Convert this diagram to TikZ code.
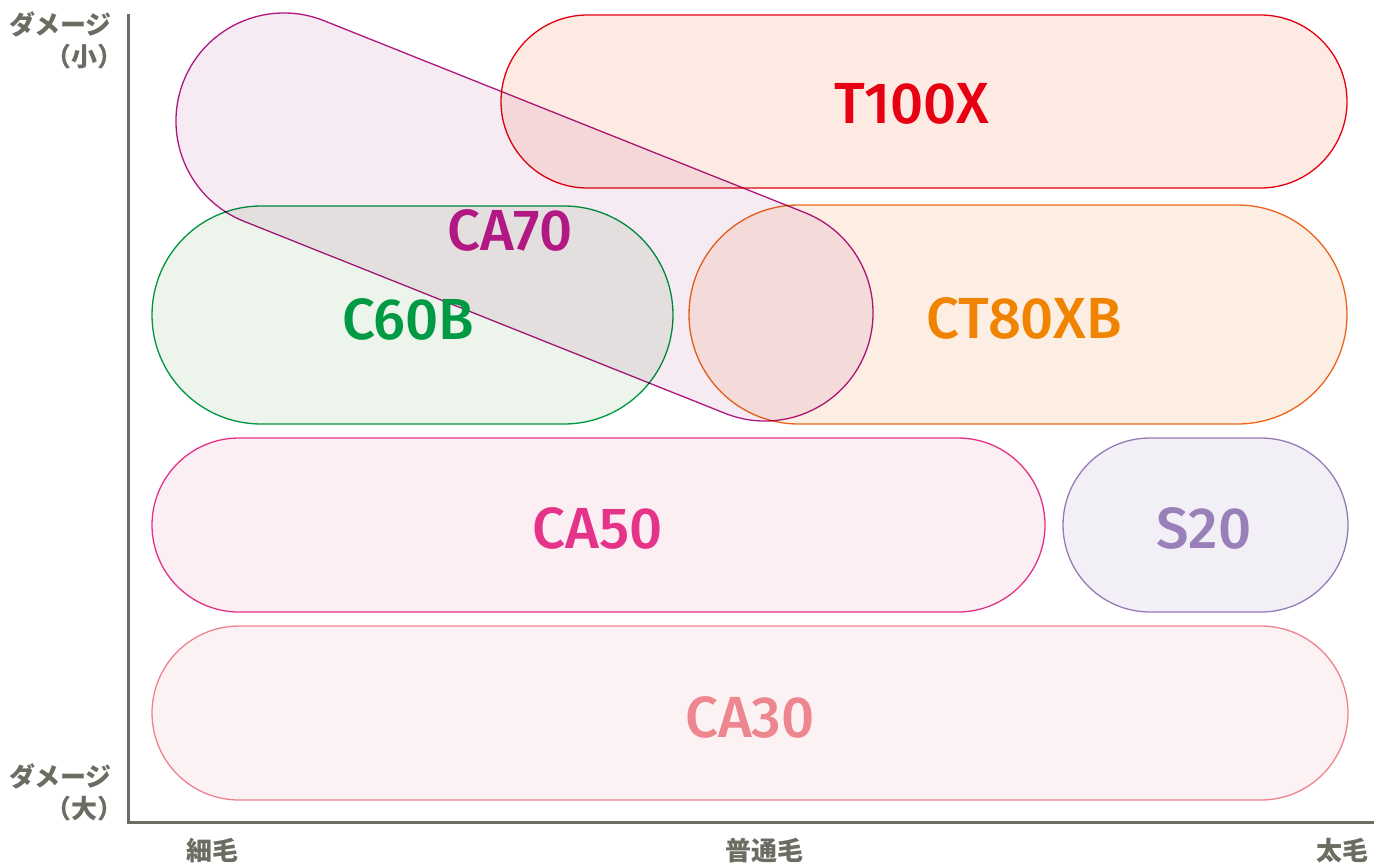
\documentclass[tikz,border=0pt]{standalone}
\usepackage{fontspec}
\setmainfont{Fira Sans}
\newfontfamily\din{Fira Sans Medium}
\newfontfamily\cjk{Noto Sans CJK JP}
\definecolor{axisgray}{HTML}{6C6C62}
\definecolor{cRed}{HTML}{E60012}
\definecolor{fRed}{HTML}{FDEBE3}
\definecolor{cMag}{HTML}{B21884}
\definecolor{fMag}{HTML}{F6EAF3}
\definecolor{cGreen}{HTML}{009944}
\definecolor{fGreen}{HTML}{EDF4EB}
\definecolor{cOrangeLine}{HTML}{EC6A1C}
\definecolor{cOrange}{HTML}{F08300}
\definecolor{fOrange}{HTML}{FDEEE4}
\definecolor{cPink}{HTML}{E5338A}
\definecolor{fPink}{HTML}{FCEFF4}
\definecolor{cPurple}{HTML}{9A80B9}
\definecolor{fPurple}{HTML}{F3EFF7}
\definecolor{cRose}{HTML}{EE8690}
\definecolor{fRose}{HTML}{FDF2F3}
\tikzset{
  pill/.style={draw=#1, line width=1.3pt, inner sep=0pt, outer sep=0pt},
  plabel/.style={text=#1, font=\din\fontsize{58}{58}\selectfont, inner sep=0pt},
  axislabel/.style={text=axisgray, font=\cjk\fontsize{26}{32}\selectfont\bfseries, inner sep=0pt},
  axisline/.style={draw=axisgray, line width=3pt}
}
\begin{document}
\begin{tikzpicture}[x=1pt,y=-1pt]
\useasboundingbox (0,0) rectangle (1386,863);
\begin{scope}[blend mode=multiply]
\node[pill=cRed, fill=fRed, minimum width=846pt, minimum height=173pt, rounded corners=86.5pt] (t100x) at (924,101.5) {};
\node[pill=cMag, fill=fMag, minimum width=734pt, minimum height=216pt, rounded corners=108pt, rotate=-21.76] (ca70) at (524.5,217) {};
\node[pill=cGreen, fill=fGreen, minimum width=521pt, minimum height=218pt, rounded corners=109pt] (c60b) at (412.5,315) {};
\node[pill=cOrangeLine, fill=fOrange, minimum width=658pt, minimum height=219pt, rounded corners=109.5pt] (ct80xb) at (1018,314.5) {};
\node[pill=cPink, fill=fPink, minimum width=893pt, minimum height=174pt, rounded corners=87pt] (ca50) at (598.5,525) {};
\node[pill=cPurple, fill=fPurple, minimum width=285pt, minimum height=174pt, rounded corners=87pt] (s20) at (1205.5,525) {};
\node[pill=cRose, fill=fRose, minimum width=1196pt, minimum height=174pt, rounded corners=87pt] (ca30) at (750,713) {};
\end{scope}
\node[plabel=cRed] (lt100x) at (912,104) {T100X};
\node[plabel=cMag] (lca70) at (510,230) {CA70};
\node[plabel=cGreen] (lc60b) at (408,319) {C60B};
\node[plabel=cOrange] (lct80xb) at (1024,318) {CT80XB};
\node[plabel=cPink] (lca50) at (598,528) {CA50};
\node[plabel=cPurple] (ls20) at (1204,528) {S20};
\node[plabel=cRose] (lca30) at (750,717) {CA30};
\coordinate (top) at (128,14);
\coordinate (origin) at (128,822);
\coordinate (right) at (1374,822);
\draw[axisline] (top) -- (origin) -- (right);
\node[axislabel, align=right, anchor=north east] (ysmall) at (112,11) {ダメージ\\（小）\hspace*{-12pt}};
\node[axislabel, align=right, anchor=north east] (ylarge) at (112,763) {ダメージ\\（大）\hspace*{-12pt}};
\node[axislabel] (xthin) at (212,851) {細毛};
\node[axislabel] (xnormal) at (764,851) {普通毛};
\node[axislabel] (xthick) at (1342,851) {太毛};
\end{tikzpicture}
\end{document}
